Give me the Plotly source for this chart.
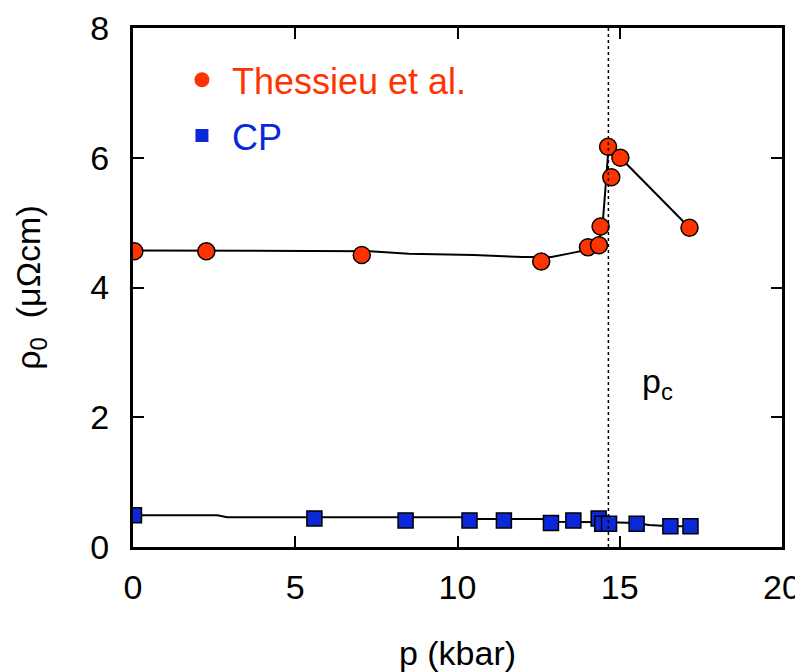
import plotly.graph_objects as go

# Thessieu et al. data
red_p = [0.04, 2.26, 7.05, 12.58, 14.02, 14.36, 14.41, 14.64, 14.74, 15.02, 17.15]
red_rho = [4.56, 4.56, 4.50, 4.40, 4.62, 4.65, 4.94, 6.17, 5.70, 6.00, 4.92]
# guide line through Thessieu data
red_line_p = [0.0, 7.3, 8.5, 10.5, 12.0, 12.9, 13.5, 14.0, 14.35, 14.48, 14.53, 14.58, 14.64, 15.02, 16.0, 17.15]
red_line_rho = [4.57, 4.56, 4.52, 4.50, 4.47, 4.47, 4.53, 4.58, 4.66, 5.03, 5.34, 5.70, 6.06, 6.00, 5.50, 4.92]

# CP data
blue_p = [0.03, 5.59, 8.40, 10.37, 11.43, 12.88, 13.57, 14.35, 14.46, 14.67, 15.52, 16.56, 17.18]
blue_rho = [0.49, 0.44, 0.41, 0.41, 0.41, 0.37, 0.41, 0.44, 0.36, 0.36, 0.36, 0.32, 0.32]
blue_line_p = [0.0, 2.6, 2.9, 5.59, 10.2, 10.4, 11.43, 12.6, 12.88, 13.57, 14.35, 14.67, 15.5, 15.9, 16.56, 17.18]
blue_line_rho = [0.49, 0.49, 0.46, 0.46, 0.46, 0.43, 0.43, 0.43, 0.39, 0.39, 0.39, 0.38, 0.37, 0.34, 0.32, 0.32]

pc = 14.65
x_ticks = [0, 5, 10, 15, 20]
y_ticks = [0, 2, 4, 6, 8]

RED = "#ff3300"
BLUE = "#0a28d8"
FONT = "Liberation Sans, Arial, sans-serif"

fig = go.Figure()
fig.add_trace(go.Scatter(x=red_line_p, y=red_line_rho, mode="lines",
                         line=dict(color="black", width=2), showlegend=False, hoverinfo="skip"))
fig.add_trace(go.Scatter(x=blue_line_p, y=blue_line_rho, mode="lines",
                         line=dict(color="black", width=2), showlegend=False, hoverinfo="skip"))
fig.add_trace(go.Scatter(x=red_p, y=red_rho, mode="markers", showlegend=False,
                         marker=dict(symbol="circle", size=17, color=RED,
                                     line=dict(color="black", width=1.5))))
fig.add_trace(go.Scatter(x=blue_p, y=blue_rho, mode="markers", showlegend=False,
                         marker=dict(symbol="square", size=15, color=BLUE,
                                     line=dict(color="black", width=1.5))))
# legend entries
fig.add_trace(go.Scatter(x=[None], y=[None], mode="markers", legendgroup="a",
                         name=f"<span style='color:{RED}'>Thessieu et al.</span>",
                         marker=dict(symbol="circle", size=15, color=RED)))
fig.add_trace(go.Scatter(x=[None], y=[None], mode="markers", legendgroup="b",
                         name=f"<span style='color:{BLUE}'>CP</span>",
                         marker=dict(symbol="square", size=13, color=BLUE)))

fig.add_shape(type="line", x0=pc, x1=pc, y0=0, y1=1, yref="paper",
              line=dict(color="black", width=1.5, dash="3px,3px"))
fig.add_annotation(x=16.15, y=2.52, text="p<sub>c</sub>", showarrow=False,
                   font=dict(size=34, color="black", family=FONT))

axis_common = dict(showgrid=False, zeroline=False, showline=True, linecolor="black",
                   linewidth=3, mirror="ticks", ticks="inside", ticklen=11, tickwidth=1.5,
                   tickcolor="black", automargin=False,
                   tickfont=dict(size=34, color="black", family=FONT))
fig.update_xaxes(range=[0, 20], tickvals=x_ticks, ticklabelstandoff=8,
                 title=dict(text="p (kbar)", font=dict(size=34, family=FONT, color="black"), standoff=37),
                 **axis_common)
fig.update_yaxes(range=[0, 8], tickvals=y_ticks, ticklabelstandoff=14,
                 title=dict(text="ρ<sub>0</sub>  (μΩcm)", font=dict(size=34, family=FONT, color="black"),
                            standoff=40),
                 **axis_common)

fig.update_layout(width=797, height=664, plot_bgcolor="white", paper_bgcolor="white",
                  margin=dict(l=125, r=23, t=20, b=125),
                  legend=dict(x=0.06, y=0.958, xanchor="left", yanchor="top",
                              bgcolor="rgba(0,0,0,0)", font=dict(size=36, family=FONT),
                              tracegroupgap=6, itemwidth=50),
                  font=dict(family=FONT))
fig.write_html("out.html")
